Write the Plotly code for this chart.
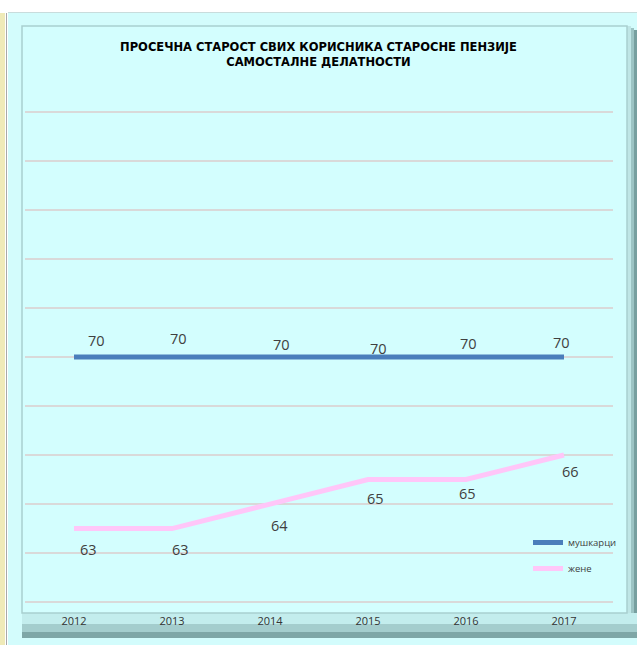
import plotly.graph_objects as go

# data
years = ['2012', '2013', '2014', '2015', '2016', '2017']
men = [70, 70, 70, 70, 70, 70]
women = [63, 63, 64, 65, 65, 66]
series_names = ['мушкарци', 'жене']
title_text = 'ПРОСЕЧНА СТАРОСТ СВИХ КОРИСНИКА СТАРОСНЕ ПЕНЗИЈЕ<br>САМОСТАЛНЕ ДЕЛАТНОСТИ'

# label nudges (pixels), roughly as placed in the original
men_dx = [22, 6, 11, 10, 2, -3]
men_dy = [17, 19, 13, 9, 14, 15]
women_dx = [14, 8, 9, 7, 1, 6]
women_dy = [-21, -21, -21, -19, -14, -16]

W, H = 637, 645
L, R, T, B = 25, 24, 107, 38
pw, ph = W - L - R, H - T - B


def px(x):
    return (x - L) / pw


def py(y):
    return (H - B - y) / ph


def rect(x0, x1, y0, y1, color):
    return dict(type='rect', xref='paper', yref='paper', x0=px(x0), x1=px(x1),
                y0=py(y1), y1=py(y0), fillcolor=color, line=dict(width=0), layer='below')


fig = go.Figure()
fig.add_trace(go.Scatter(x=years, y=men, mode='lines', name=series_names[0],
                         line=dict(color='#4a7ebb', width=5), legendgroup='a'))
fig.add_trace(go.Scatter(x=years, y=women, mode='lines', name=series_names[1],
                         line=dict(color='#ffc6f8', width=5), legendgroup='b'))

# data labels (category axis -> annotation x is the category index)
for vals, dxs, dys in [(men, men_dx, men_dy), (women, women_dx, women_dy)]:
    for i, (v, dx, dy) in enumerate(zip(vals, dxs, dys)):
        fig.add_annotation(x=i, y=v, text=str(v), showarrow=False,
                           xshift=dx, yshift=dy,
                           font=dict(family='Open Sans, Liberation Sans', size=14.5, color='#404040'))

# frame / bevel decorations
shapes = [
    rect(0, 5, 13, 645, '#efeab8'),          # pale yellow strip on the left
    rect(6, 7, 13, 645, '#a8a8a8'),
    rect(8, 637, 12, 645, '#d3fcfc'),         # outer light frame
    rect(8, 637, 12, 13, '#c8dcdc'),
    # right bevel (light -> dark)
    rect(627, 631, 26, 638, '#bfe6e6'),
    rect(631, 634, 28, 638, '#9cc4c4'),
    rect(634, 637, 30, 638, '#779f9f'),
    # bottom bevel (light -> dark)
    rect(22, 637, 613, 624, '#c3eded'),
    rect(22, 637, 624, 632, '#a4cdcd'),
    rect(22, 637, 632, 638, '#7ea6a6'),
    # inner panel
    dict(type='rect', xref='paper', yref='paper', x0=px(22), x1=px(627), y0=py(613), y1=py(26),
         fillcolor='#d3fefe', line=dict(color='#a9cfcf', width=1.5), layer='below'),
]
fig.update_layout(shapes=shapes)

fig.update_layout(
    width=W, height=H,
    margin=dict(l=L, r=R, t=T, b=B),
    paper_bgcolor='white',
    plot_bgcolor='#d3fefe',
    title=dict(text='<b>' + title_text + '</b>', x=0.5, xanchor='center', y=1 - 51 / H, yanchor='top',
               font=dict(family='DejaVu Sans', size=11.5, color='black')),
    xaxis=dict(type='category', range=[-0.5, 5.5], showgrid=False, zeroline=False, showline=False,
               ticks='outside', ticklen=4, tickcolor='rgba(0,0,0,0)',
               tickfont=dict(family='Open Sans, Liberation Sans', size=11, color='#333333')),
    yaxis=dict(range=[59.8, 80.2], tickvals=list(range(60, 81, 2)), showgrid=True,
               gridcolor='#d9d9d9', gridwidth=1.5,
               showticklabels=False, zeroline=False, showline=False, ticks=''),
    showlegend=True,
    legend=dict(x=px(528), y=py(528), xanchor='left', yanchor='top',
                bgcolor='rgba(0,0,0,0)', tracegroupgap=7, traceorder='grouped',
                font=dict(family='Open Sans, Liberation Sans', size=9.5, color='#404040')),
)

fig.write_html('out.html', config={'displayModeBar': False},
               post_script="document.body.style.margin='0';")
